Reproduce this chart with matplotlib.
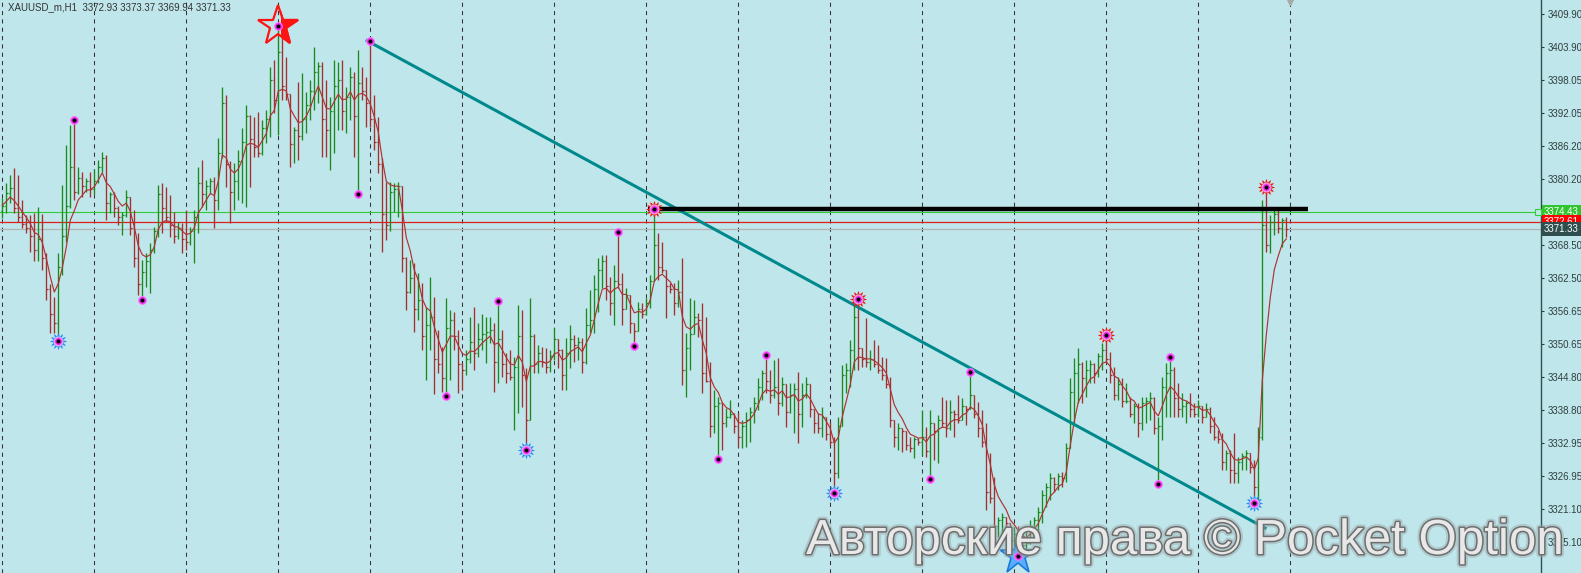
import numpy as np
import pandas as pd
import matplotlib
matplotlib.use('Agg')
import matplotlib.pyplot as plt
import matplotlib.patheffects as pe
from matplotlib.patches import Rectangle

plt.rcParams['font.family'] = ['Liberation Sans', 'DejaVu Sans']

# --- XAUUSD_m H1 bars (open = previous close) ---
symbol = 'XAUUSD_m,H1'
first_open = 3374.5

closes = [
    3375.5, 3377.8, 3378.6, 3375.0, 3373.5, 3372.2, 3371.5, 3370.0, 3367.5, 3369.5,
    3366.0, 3360.5, 3356.0, 3354.5, 3364.5, 3370.0, 3375.5, 3382.5, 3378.0, 3380.5,
    3379.0, 3380.0, 3378.5, 3380.0, 3382.5, 3384.0, 3376.0, 3377.5, 3375.0, 3373.5,
    3373.8, 3377.0, 3371.5, 3366.0, 3361.5, 3363.5, 3365.5, 3367.5, 3371.0, 3377.5,
    3375.0, 3373.5, 3372.0, 3370.0, 3371.5, 3369.5, 3369.0, 3371.0, 3373.5, 3379.5,
    3377.5, 3379.0, 3380.0, 3376.5, 3385.0, 3394.0, 3383.0, 3378.0, 3380.0, 3383.5,
    3387.0, 3391.5, 3387.5, 3386.0, 3385.0, 3389.5, 3391.0, 3398.0, 3394.5, 3403.0,
    3397.0, 3395.5, 3386.5, 3389.0, 3388.0, 3391.0, 3393.5, 3396.0, 3399.5, 3400.5,
    3391.0, 3389.0, 3392.5, 3397.0, 3398.0, 3392.5, 3395.0, 3398.5, 3391.5, 3397.5,
    3396.0, 3394.0, 3391.0, 3387.0, 3383.0, 3374.0, 3372.0, 3378.0, 3378.5, 3379.0,
    3366.0, 3360.0, 3362.5, 3357.0, 3358.5, 3352.0, 3354.0, 3355.5, 3348.0, 3347.0,
    3344.5, 3353.5, 3355.0, 3352.0, 3347.0, 3346.0, 3348.0, 3351.0, 3349.0, 3351.5,
    3352.5, 3352.8, 3353.2, 3347.5, 3351.5, 3347.0, 3345.5, 3344.8, 3346.5, 3352.0,
    3345.0, 3337.0, 3352.0, 3347.0, 3349.0, 3347.5, 3346.5, 3348.5, 3351.5, 3349.5,
    3345.0, 3349.0, 3351.5, 3350.5, 3351.0, 3347.5, 3354.0, 3355.0, 3360.5, 3364.0,
    3365.5, 3361.0, 3358.0, 3362.0, 3361.5, 3357.0, 3359.5, 3354.5, 3353.0, 3357.0,
    3356.0, 3358.0, 3362.0, 3368.5, 3364.5, 3364.0, 3361.0, 3360.5, 3358.0, 3360.0,
    3346.0, 3350.0, 3352.5, 3355.5, 3355.0, 3345.5, 3344.0, 3336.0, 3339.5, 3340.0,
    3336.5, 3337.5, 3338.0, 3336.0, 3334.0, 3336.0, 3337.0, 3338.5, 3340.0, 3343.0,
    3345.5, 3344.0, 3341.5, 3343.0, 3340.0, 3343.5, 3338.5, 3341.5, 3342.5, 3338.0,
    3341.5, 3343.5, 3339.0, 3336.5, 3335.5, 3337.5, 3334.5, 3333.0, 3327.5, 3336.0,
    3345.0, 3346.0, 3349.5, 3355.5, 3350.0, 3348.0, 3347.5, 3348.0, 3347.0, 3346.0,
    3345.0, 3343.5, 3337.0, 3334.0, 3335.5, 3335.0, 3332.5, 3332.0, 3333.5, 3333.0,
    3334.0, 3331.5, 3336.5, 3335.0, 3337.0, 3336.5, 3335.5, 3338.5, 3338.0, 3337.0,
    3339.5, 3339.0, 3341.5, 3338.0, 3335.5, 3333.0, 3324.0, 3323.0, 3318.0, 3319.0,
    3319.5, 3318.5, 3315.5, 3316.5, 3315.0, 3314.5, 3315.0, 3318.0, 3319.0, 3320.5,
    3323.5, 3325.0, 3326.5, 3325.5, 3327.0, 3326.5, 3332.0, 3342.0, 3345.5, 3347.0,
    3344.5, 3346.0, 3347.0, 3345.5, 3348.5, 3349.5, 3348.0, 3345.0, 3341.5, 3343.5,
    3340.5, 3340.5, 3338.0, 3339.5, 3336.5, 3340.0, 3340.5, 3341.0, 3335.5, 3336.0,
    3343.0, 3345.5, 3346.0, 3341.0, 3339.0, 3339.5, 3340.0, 3339.0, 3338.0, 3339.5,
    3337.5, 3339.0, 3336.0, 3334.0, 3333.5, 3329.5, 3331.0, 3328.0, 3327.5, 3329.5,
    3330.5, 3331.0, 3328.5, 3325.0, 3334.0, 3372.0, 3368.5, 3372.5, 3374.0, 3371.5,
    3372.93, 3371.33,
]

highs = [
    3376.8, 3379.5, 3381.0, 3382.2, 3381.0, 3376.5, 3373.8, 3373.8, 3374.2, 3375.3,
    3374.0, 3367.0, 3361.5, 3359.0, 3367.0, 3379.2, 3386.4, 3390.0, 3390.8, 3382.4,
    3381.5, 3380.5, 3381.5, 3382.0, 3383.7, 3385.1, 3384.5, 3378.0, 3378.0, 3375.5,
    3374.3, 3378.3, 3377.0, 3374.7, 3370.6, 3365.7, 3367.0, 3368.8, 3371.6, 3379.2,
    3379.5, 3378.8, 3377.4, 3374.3, 3372.5, 3372.4, 3374.7, 3371.6, 3374.7, 3382.4,
    3383.7, 3380.1, 3380.5, 3380.6, 3387.6, 3396.8, 3395.3, 3383.5, 3383.1, 3385.5,
    3389.4, 3393.6, 3391.8, 3391.4, 3392.3, 3390.9, 3392.7, 3400.4, 3401.6, 3407.7,
    3406.7, 3402.2, 3395.5, 3389.6, 3397.7, 3399.3, 3395.9, 3398.0, 3404.0, 3401.3,
    3401.3, 3398.0, 3395.0, 3401.6, 3401.3, 3401.6, 3396.8, 3400.4, 3399.5, 3403.4,
    3400.4, 3398.6, 3405.0, 3395.4, 3391.4, 3384.0, 3379.7, 3379.7, 3379.5, 3379.7,
    3379.0, 3366.3, 3365.7, 3365.2, 3363.4, 3361.6, 3357.3, 3362.7, 3359.1, 3353.2,
    3350.1, 3358.9, 3356.7, 3356.4, 3353.2, 3347.2, 3349.6, 3355.5, 3357.3, 3354.4,
    3356.1, 3355.5, 3355.5, 3354.4, 3358.4, 3353.2, 3349.0, 3349.6, 3348.3, 3357.6,
    3356.7, 3346.3, 3358.9, 3352.5, 3350.5, 3350.1, 3349.9, 3349.6, 3353.5, 3351.6,
    3349.8, 3351.7, 3354.0, 3352.3, 3351.9, 3351.7, 3357.1, 3360.3, 3363.0, 3366.1,
    3366.6, 3366.6, 3362.7, 3364.8, 3370.8, 3363.4, 3360.7, 3359.5, 3354.5, 3358.2,
    3358.0, 3358.9, 3363.0, 3374.8, 3370.6, 3369.0, 3364.0, 3361.6, 3361.6, 3362.1,
    3366.1, 3352.6, 3358.9, 3358.5, 3356.3, 3358.0, 3355.5, 3347.4, 3342.4, 3341.1,
    3340.0, 3339.2, 3340.6, 3338.3, 3338.3, 3337.0, 3338.4, 3339.3, 3341.1, 3344.5,
    3346.0, 3348.7, 3346.0, 3347.8, 3348.1, 3344.7, 3343.5, 3343.6, 3343.6, 3345.6,
    3343.6, 3344.7, 3343.5, 3339.0, 3338.2, 3339.3, 3337.5, 3336.6, 3333.9, 3337.5,
    3346.9, 3347.2, 3351.4, 3358.0, 3358.7, 3350.0, 3355.3, 3349.6, 3351.4, 3350.5,
    3348.3, 3348.1, 3344.7, 3337.0, 3336.4, 3335.6, 3335.0, 3333.9, 3333.9, 3333.8,
    3338.8, 3335.7, 3338.8, 3336.5, 3337.9, 3341.1, 3340.6, 3340.6, 3338.8, 3341.5,
    3340.9, 3339.6, 3345.6, 3341.5, 3340.2, 3338.8, 3336.4, 3331.1, 3326.8, 3319.6,
    3320.3, 3319.6, 3318.5, 3317.8, 3318.0, 3317.6, 3317.6, 3319.0, 3319.6, 3321.4,
    3324.4, 3325.7, 3327.5, 3326.8, 3327.5, 3327.7, 3332.9, 3344.5, 3348.1, 3349.9,
    3347.5, 3347.8, 3347.8, 3347.3, 3349.0, 3350.8, 3352.3, 3349.2, 3346.5, 3344.7,
    3344.5, 3343.6, 3341.1, 3340.0, 3340.0, 3341.1, 3341.1, 3342.0, 3341.1, 3337.5,
    3344.7, 3347.2, 3348.3, 3346.5, 3343.6, 3341.8, 3340.5, 3341.8, 3340.0, 3340.6,
    3339.5, 3340.0, 3339.3, 3337.5, 3335.2, 3334.7, 3331.6, 3331.6, 3334.7, 3330.4,
    3331.1, 3331.6, 3331.0, 3329.8, 3335.7, 3376.5, 3378.8, 3373.8, 3375.2, 3374.9,
    3373.3, 3373.37,
]

lows = [
    3373.2, 3374.2, 3376.0, 3374.2, 3372.5, 3371.4, 3370.6, 3367.2, 3365.5, 3365.6,
    3364.0, 3358.5, 3352.6, 3352.6, 3351.2, 3363.0, 3369.0, 3375.0, 3376.5, 3377.5,
    3377.0, 3378.0, 3377.0, 3377.5, 3379.5, 3381.5, 3372.9, 3374.2, 3373.5, 3372.0,
    3370.2, 3373.4, 3370.2, 3364.5, 3359.5, 3358.6, 3360.9, 3359.8, 3367.0, 3369.9,
    3370.6, 3372.5, 3369.9, 3368.8, 3369.5, 3367.0, 3367.5, 3368.5, 3365.2, 3370.6,
    3375.2, 3374.7, 3377.7, 3371.5, 3374.7, 3384.0, 3378.8, 3372.4, 3374.7, 3376.5,
    3376.0, 3375.2, 3378.8, 3384.2, 3384.2, 3384.5, 3386.7, 3387.8, 3392.1, 3388.2,
    3394.5, 3394.5, 3382.4, 3383.1, 3383.7, 3387.3, 3388.5, 3390.9, 3392.7, 3393.9,
    3384.2, 3384.2, 3381.9, 3385.0, 3389.1, 3389.1, 3388.5, 3390.9, 3384.2, 3377.6,
    3394.5, 3389.6, 3389.6, 3385.5, 3381.3, 3367.2, 3369.3, 3371.0, 3374.3, 3373.4,
    3363.6, 3356.8, 3359.8, 3352.8, 3355.0, 3349.6, 3344.2, 3349.6, 3341.6, 3345.4,
    3342.0, 3341.3, 3344.2, 3349.6, 3341.8, 3342.4, 3345.0, 3347.2, 3346.0, 3348.3,
    3349.6, 3347.2, 3350.8, 3342.0, 3343.6, 3344.7, 3343.6, 3344.2, 3335.2, 3338.3,
    3339.3, 3331.6, 3337.0, 3345.4, 3345.5, 3346.5, 3345.4, 3345.6, 3347.8, 3346.3,
    3342.4, 3342.4, 3346.3, 3347.4, 3347.8, 3345.4, 3347.0, 3352.6, 3352.6, 3356.4,
    3360.7, 3358.5, 3355.8, 3354.0, 3360.7, 3354.0, 3357.0, 3352.6, 3350.3, 3353.0,
    3355.3, 3355.8, 3357.1, 3362.0, 3362.1, 3363.4, 3355.3, 3359.8, 3355.8, 3357.3,
    3343.3, 3341.1, 3346.0, 3352.5, 3351.9, 3341.8, 3343.8, 3333.9, 3334.6, 3330.0,
    3331.6, 3335.7, 3337.3, 3334.6, 3332.2, 3332.0, 3332.2, 3333.0, 3336.4, 3338.8,
    3340.6, 3341.8, 3340.0, 3341.0, 3337.9, 3339.5, 3335.7, 3338.2, 3334.7, 3332.9,
    3335.7, 3340.9, 3337.5, 3334.7, 3334.7, 3333.9, 3333.4, 3332.5, 3323.9, 3326.6,
    3336.0, 3341.8, 3342.9, 3346.0, 3346.0, 3346.5, 3346.5, 3346.0, 3346.5, 3345.4,
    3344.2, 3342.7, 3335.7, 3332.2, 3331.6, 3331.3, 3331.6, 3331.3, 3330.2, 3332.5,
    3330.7, 3330.4, 3326.4, 3329.8, 3329.3, 3335.7, 3334.0, 3335.2, 3334.0, 3336.5,
    3337.0, 3336.1, 3339.0, 3337.3, 3334.0, 3332.2, 3320.8, 3322.1, 3316.0, 3316.0,
    3316.4, 3315.1, 3313.2, 3314.2, 3312.6, 3313.5, 3313.7, 3314.8, 3315.4, 3316.7,
    3318.5, 3321.4, 3322.6, 3324.1, 3324.4, 3325.0, 3325.9, 3332.0, 3336.4, 3340.0,
    3340.0, 3341.1, 3343.6, 3343.6, 3344.7, 3346.0, 3347.2, 3343.6, 3340.6, 3340.6,
    3339.3, 3340.0, 3337.5, 3336.4, 3334.0, 3335.2, 3336.5, 3337.0, 3334.5, 3325.5,
    3333.4, 3337.5, 3337.5, 3337.5, 3337.5, 3337.5, 3336.4, 3337.5, 3337.5, 3337.5,
    3336.5, 3337.5, 3334.7, 3333.4, 3332.9, 3328.0, 3328.0, 3325.7, 3325.7, 3325.7,
    3328.0, 3328.0, 3327.5, 3322.1, 3322.6, 3333.4, 3367.2, 3367.0, 3370.2, 3370.6,
    3368.1, 3369.94,
]

# swing markers (bar indexes)
top_dots = [18, 92, 124, 154, 191, 242, 292]
top_suns = [163, 214, 276, 316]
top_star = [69]
bottom_dots = [35, 89, 111, 158, 179, 232, 289]
bottom_suns = [14, 131, 208, 313]
bottom_star = [254]

# price lines
ask_price = 3374.43
red_level = 3372.61
bid_price = 3371.33
trend_bars = [91.2, 315.7]
trend_prices = [3405.1, 3317.6]
level_bars = [161.4, 326.4]
level_price = 3374.8
grid_step = 23
price_ticks = [3409.90, 3403.90, 3398.05, 3392.05, 3386.20, 3380.20, 3368.50,
               3362.50, 3356.65, 3350.65, 3344.80, 3338.80, 3332.95, 3326.95,
               3321.10, 3315.10]

closes = np.array(closes)
highs = np.array(highs)
lows = np.array(lows)
n = len(closes)
opens = np.concatenate([[first_open], closes[:-1]])
idx = np.arange(n)
ma = pd.Series(closes).ewm(span=5, adjust=False).mean()

BG = '#bfe6eb'
fig = plt.figure(figsize=(15.81, 5.73), dpi=100, facecolor=BG)
ax = fig.add_axes([0, 0, 1541 / 1581, 1])
ax.set_facecolor(BG)
ax.set_xlim(-0.575, 384.68)
ax.set_ylim(3309.53, 3412.41)

# vertical dashed grid
for g in range(0, n + 1, grid_step):
    ax.axvline(g, color='#333333', lw=0.75, dashes=(4, 4), zorder=1)

# price lines
ax.axhline(ask_price, color='#32cd32', lw=0.8, zorder=2)
ax.axhline(red_level, color='#e01e1e', lw=0.9, zorder=2)
ax.axhline(bid_price, color='#b4b4b4', lw=0.9, zorder=2)
ax.plot(ax.get_xlim()[1] - 0.8, ask_price, marker='s', ms=4, mfc=BG,
        mec='#32cd32', mew=0.8, zorder=3)

# OHLC bars
up = closes >= opens
col = np.where(up, '#1a8a1a', '#a52f2f')
hi = np.maximum(highs, np.maximum(opens, closes))
lo = np.minimum(lows, np.minimum(opens, closes))
ax.vlines(idx, lo, hi, colors=col, lw=0.95, zorder=3)
ax.hlines(opens, idx - 0.35, idx, colors=col, lw=0.9, zorder=3)
ax.hlines(closes, idx, idx + 0.35, colors=col, lw=0.9, zorder=3)

# moving average
ax.plot(idx, ma, color='#b03232', lw=0.85, zorder=4)

# trend line and level
ax.plot(trend_bars, trend_prices, color='#00898c', lw=2.2, zorder=5)
ax.plot(level_bars, [level_price, level_price], color='black', lw=3.2,
        solid_capstyle='butt', zorder=5)


def dot(i, p):
    ax.plot(i, p, 'o', ms=5.5, mfc='#e020e0', mec='#ff70ff', mew=0.8, zorder=8)
    ax.plot(i, p, 'o', ms=1.8, color='black', zorder=9)


def sun(i, p, c, inner):
    ax.plot(i, p, marker=(12, 1, 0), ms=11.5, mfc=c, mec=c, mew=0.5, zorder=7)
    ax.plot(i, p, 'o', ms=7, mfc=inner, mec='none', zorder=7)
    dot(i, p)


for i in top_dots:
    dot(i, highs[i])
for i in bottom_dots:
    dot(i, lows[i])
for i in top_suns:
    sun(i, highs[i], '#ee1a1a', '#ffd6d6')
for i in bottom_suns:
    sun(i, lows[i], '#2f8ff0', '#dcefff')
for i in top_star:
    ax.plot(i, highs[i], marker='*', ms=30, mfc='none', mec='#ff1414', mew=1.6, zorder=7)
    half = ax.plot(i, highs[i], marker='*', ms=30, mfc='#ff1414', mec='#ff1414',
                   mew=1.6, zorder=7)[0]
    half.set_clip_path(Rectangle((i + 0.6, highs[i] - 10), 10, 20, transform=ax.transData))
    dot(i, highs[i])
for i in bottom_star:
    ax.plot(i, lows[i], marker='*', ms=28, mfc='#59adff', mec='#1b78d8', mew=1.2,
            zorder=7, clip_on=False)
    dot(i, lows[i])

# shift marker at top
ax.plot(n, ax.get_ylim()[1], marker='v', ms=7, color='#a8a8a8', clip_on=False, zorder=6)

# right price scale
for s in ['left', 'top', 'bottom']:
    ax.spines[s].set_visible(False)
ax.spines['right'].set_color('#2f4f4f')
ax.spines['right'].set_linewidth(1)
ax.set_xticks([])
ax.yaxis.tick_right()
ax.set_yticks(price_ticks)
ax.set_yticklabels([f'{p:.2f}' for p in price_ticks])
ax.tick_params(axis='y', direction='out', length=2.5, width=0.8, colors='#2f3f3f',
               labelsize=7, pad=2)

for price, c in [(ask_price, '#2ec52e'), (red_level, '#ff0000'), (bid_price, '#2f4f4f')]:
    ax.text(1.0 + 3 / 1541, price, f'{price:.2f}', transform=ax.get_yaxis_transform(),
            ha='left', va='center', fontsize=7, color='white', clip_on=False,
            bbox=dict(boxstyle='square,pad=0.2', fc=c, ec='none'), zorder=10)

# header
fig.text(8 / 1581, 1 - 7 / 573,
         f'{symbol}  {opens[-1]:.2f} {highs[-1]:.2f} {lows[-1]:.2f} {closes[-1]:.2f}',
         fontsize=7, color='#333333', va='center', ha='left')

# watermark
fig.text(806 / 1581, 1 - 554 / 573, 'Авторские права © Pocket Option',
         fontsize=35.5, color='#e8e8e8', ha='left', va='baseline', zorder=20,
         path_effects=[pe.withStroke(linewidth=5, foreground='#9aa4a6', alpha=0.45),
                       pe.withStroke(linewidth=2.2, foreground='#6e6e6e')])

fig.savefig('out.png', dpi=100, facecolor=BG)
